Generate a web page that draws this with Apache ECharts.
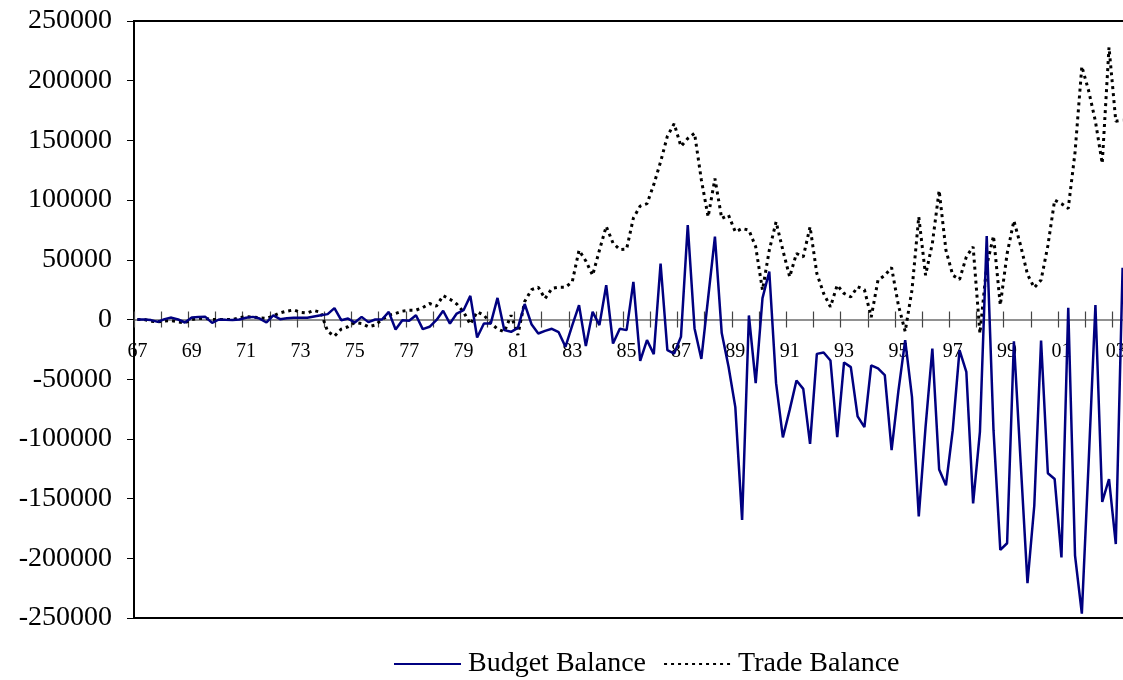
<!DOCTYPE html>
<html>
<head>
<meta charset="utf-8">
<script src="https://cdn.jsdelivr.net/npm/echarts@6/dist/echarts.min.js"></script>
<style>
html,body{margin:0;padding:0;background:#fff;}
#chart{width:1123px;height:680px;}
</style>
</head>
<body>
<div id="chart"></div>
<script>
// Quarterly categories 1967Q1 .. 2003Q2
const firstYear = 1967;
const quarterCount = 146;
const categories = [];
for (let i = 0; i < quarterCount; i++) {
  const y = firstYear + Math.floor(i / 4);
  categories.push(y + 'Q' + (i % 4 + 1));
}

const budgetBalance = [
  0, 0, -500, -2000, 300, 1600, 0, -2500, 1700, 2000, 2200, -2800,
  0, -300, -500, 0, 1400, 2200, 800, -2500, 3400, 300, 1100, 1400,
  1400, 1400, 2500, 3500, 4500, 9500, -600, 800, -2500, 2200, -2200, 0,
  0, 6400, -8400, -600, -1100, 3600, -8100, -6100, -600, 7300, -3400, 5000,
  7800, 19800, -15100, -3400, -3400, 18100, -8900, -10300, -7000, 13000, -3900, -11700,
  -9500, -7800, -10600, -22900, -5000, 12000, -22300, 6400, -4700, 28700, -20100, -7800,
  -8900, 31500, -34600, -17300, -29000, 46900, -25700, -28500, -14500, 79000, -7500, -33000,
  18000, 69500, -11400, -39400, -73400, -167800, 3400, -53300, 17900, 40200, -53300, -98800,
  -75700, -51100, -58100, -104100, -28800, -27600, -34300, -98600, -36000, -39900, -81200, -90200,
  -38500, -41000, -46600, -109400, -60000, -17300, -64800, -165000, -90000, -24300, -125600, -138800,
  -92700, -25700, -43800, -154100, -94100, 69800, -92700, -193000, -187400, -18300, -120000, -220800,
  -156000, -17600, -128800, -133600, -199300, 9900, -197700, -246400, -120000, 12200, -152800, -133600,
  -188100, 43300
];

const tradeBalance = [
  0, 0, -1500, -2000, -1200, -1000, -2000, -2800, 0, 1000, 800, 0,
  0, 0, 0, 1500, 2500, 2000, 1500, 1000, 3000, 5500, 7000, 8000,
  6000, 5500, 7500, 6000, -10000, -14000, -8000, -6100, -2500, -3400, -6100, -4700,
  0, 3600, 5000, 7000, 7800, 7800, 10000, 13400, 11200, 20000, 17000, 13000,
  6400, -4000, 6400, 3600, -3000, -8000, -10300, 3600, -13000, 15000, 25000, 27000,
  17500, 26000, 27000, 27000, 31500, 58000, 49000, 37000, 58000, 78000, 64000, 58600,
  59000, 85000, 95000, 97000, 113000, 132000, 153500, 164000, 145000, 151600, 156000, 117000,
  86000, 118000, 84600, 87400, 73400, 76200, 74800, 60900, 24600, 58000, 81800, 58000,
  35700, 55300, 52500, 77600, 38500, 21800, 10600, 28800, 21800, 19000, 27400, 25000,
  2000, 33000, 37000, 43500, 12000, -10000, 24600, 86000, 37100, 63700, 108000, 58000,
  37100, 33500, 52500, 60900, -11700, 45000, 70000, 12000, 55000, 82700, 61800, 37800,
  26600, 33000, 61800, 100000, 97000, 93000, 140000, 212000, 191600, 166000, 130700, 228000,
  166000, 167000
];

const yTicks = { min: -250000, max: 250000, interval: 50000 };
const seriesNames = ['Budget Balance', 'Trade Balance'];

const serif = 'Liberation Serif';
const chart = echarts.init(document.getElementById('chart'), null, { renderer: 'canvas' });

const yearTick = function (idx) { return idx % 4 === 0; };

const option = {
  backgroundColor: '#ffffff',
  animation: false,
  grid: {
    left: 134, right: -3, top: 21, bottom: 62,
    outerBoundsMode: 'none',
    containLabel: false,
    show: true, borderColor: '#000', borderWidth: 2, backgroundColor: 'transparent'
  },
  legend: {
    left: 388, top: 645,
    itemWidth: 67, itemHeight: 14, itemGap: 17,
    itemStyle: { opacity: 0 },
    textStyle: { fontFamily: serif, fontSize: 28, color: '#000', padding: [0, 0, 0, 2] },
    data: seriesNames
  },
  xAxis: [
    {
      type: 'category',
      data: categories,
      boundaryGap: true,
      axisLine: { onZero: true, onZeroAxisIndex: 0, lineStyle: { color: '#6e6e6e', width: 1.5 } },
      axisTick: {
        show: true, inside: false, length: 8,
        interval: yearTick,
        lineStyle: { color: '#444', width: 1.2 }
      },
      axisLabel: {
        show: true, margin: -276,
        interval: function (idx) { return idx % 8 === 0; },
        formatter: function (v) { return String(v).slice(2, 4); },
        fontFamily: serif, fontSize: 20, color: '#000'
      },
      splitLine: { show: false }
    },
    {
      type: 'category',
      data: categories,
      boundaryGap: true,
      position: 'bottom',
      axisLine: { show: false, onZero: true, onZeroAxisIndex: 1 },
      axisTick: {
        show: true, inside: true, length: 8,
        interval: yearTick,
        lineStyle: { color: '#444', width: 1.2 }
      },
      axisLabel: { show: false },
      splitLine: { show: false }
    }
  ],
  yAxis: [
    {
      type: 'value',
      min: yTicks.min, max: yTicks.max, interval: yTicks.interval,
      axisLine: { show: true, onZero: false, lineStyle: { color: '#000', width: 2 } },
      axisTick: { show: true, length: 7, lineStyle: { color: '#000', width: 1 } },
      axisLabel: {
        margin: 22, fontFamily: serif, fontSize: 28, color: '#000',
        formatter: function (v) { return String(v); }
      },
      splitLine: { show: false }
    },
    {
      type: 'value',
      position: 'right',
      min: yTicks.min, max: yTicks.max, interval: yTicks.interval,
      axisLine: { show: false, onZero: false },
      axisTick: { show: false },
      axisLabel: { show: false },
      splitLine: { show: false }
    }
  ],
  series: [
    {
      name: seriesNames[0],
      type: 'line',
      data: budgetBalance,
      symbol: 'none',
      lineStyle: { color: '#000080', width: 2.5 },
      itemStyle: { color: '#000080' },
      z: 3
    },
    {
      name: seriesNames[1],
      type: 'line',
      data: tradeBalance,
      symbol: 'none',
      lineStyle: { color: '#000', width: 3, type: [3, 4] },
      itemStyle: { color: '#000' },
      z: 2
    }
  ]
};
chart.setOption(option);
</script>
</body>
</html>
